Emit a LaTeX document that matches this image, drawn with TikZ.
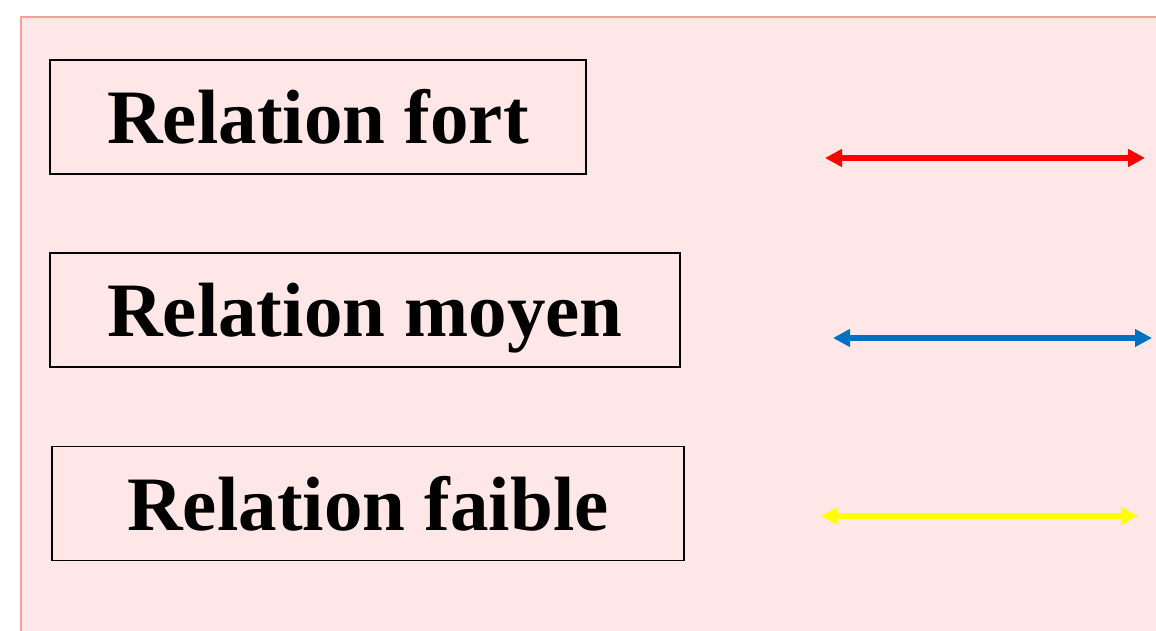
\documentclass[tikz,border=0pt]{standalone}
\usepackage{fontspec}
\setmainfont{Liberation Serif}
\usetikzlibrary{arrows.meta}
\definecolor{bgpink}{HTML}{FFE7E7}
\definecolor{edgepink}{HTML}{FF9C9C}
\definecolor{relred}{HTML}{FF0000}
\definecolor{relblue}{HTML}{0070C0}
\definecolor{relyellow}{HTML}{FFFF00}
\tikzset{
  relbox/.style={draw=black, line width=1.3pt, rectangle, inner sep=0pt,
    minimum height=114pt, text height=53pt, text depth=0pt,
    font=\fontsize{77}{77}\selectfont\bfseries},
  relarrow/.style={line width=5.5pt, {Triangle[length=17pt,width=17pt]}-{Triangle[length=17pt,width=17pt]}}
}
\begin{document}
\begin{tikzpicture}[x=1pt,y=-1pt]
\useasboundingbox (0,0) rectangle (1156,631);
\clip (0,0) rectangle (1156,631);
\draw[draw=edgepink, fill=bgpink, line width=2.2pt] (21,17) rectangle (1170,650);
\node[relbox, minimum width=536pt] (fort) at (318,117) {Relation fort};
\node[relbox, minimum width=630pt] (moyen) at (365,310) {Relation moyen};
\node[relbox, minimum width=632pt] (faible) at (368,503.5) {Relation faible};
\coordinate (r1) at (825,158); \coordinate (r2) at (1145,158);
\coordinate (b1) at (833,338); \coordinate (b2) at (1152,338);
\coordinate (y1) at (821,516); \coordinate (y2) at (1138,516);
\draw[relarrow, relred] (r1) -- (r2);
\draw[relarrow, relblue] (b1) -- (b2);
\draw[relarrow, relyellow] (y1) -- (y2);
\end{tikzpicture}
\end{document}
